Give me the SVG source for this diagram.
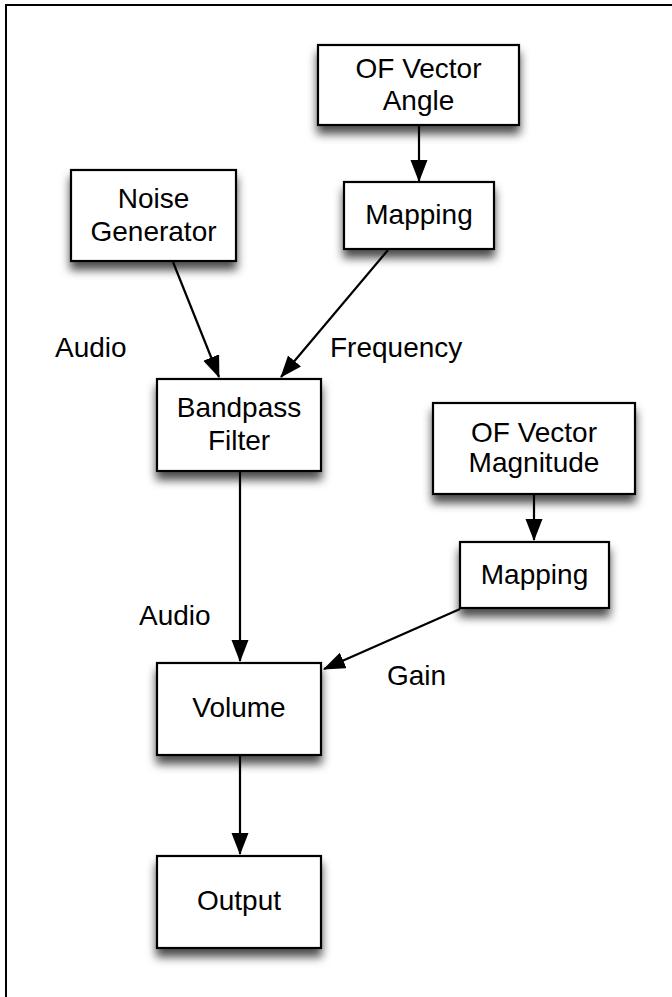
<svg xmlns="http://www.w3.org/2000/svg" width="672" height="997" viewBox="0 0 672 997">
<style>
.box{fill:#fff;stroke:#000;stroke-width:2.2;filter:url(#sh)}
.t{font-family:"Liberation Sans",Arial,sans-serif;font-size:28px;fill:#000;text-anchor:middle}
.l{font-family:"Liberation Sans",Arial,sans-serif;font-size:28px;fill:#000}
.c{stroke:#000;stroke-width:2.2;fill:none;marker-end:url(#ah)}
</style>
<defs>
<filter id="sh" x="-20%" y="-20%" width="140%" height="160%">
<feDropShadow dx="0" dy="8" stdDeviation="5" flood-color="#000" flood-opacity="0.7"/>
</filter>
<marker id="ah" markerWidth="22" markerHeight="18" refX="21" refY="8.5" orient="auto" markerUnits="userSpaceOnUse">
<path d="M0,0 L22,8.5 L0,17 Z" fill="#000"/>
</marker>
</defs>
<rect x="0" y="0" width="672" height="997" fill="#fff"/>
<rect x="6" y="5" width="720" height="1100" fill="none" stroke="#000" stroke-width="2"/>
<g id="connectors">
<line class="c" x1="419" y1="125" x2="419" y2="181"/>
<line class="c" x1="173" y1="262" x2="219" y2="377"/>
<line class="c" x1="388" y1="250" x2="281" y2="377"/>
<line class="c" x1="240" y1="471" x2="240" y2="661"/>
<line class="c" x1="534" y1="494" x2="534" y2="540"/>
<line class="c" x1="460" y1="609" x2="324" y2="669"/>
<line class="c" x1="240" y1="755" x2="240" y2="854"/>
</g>
<g id="n-ofangle"><rect class="box" x="318" y="45" width="201" height="80"/><text class="t" x="418.5" y="78">OF Vector</text><text class="t" x="418.5" y="110">Angle</text></g>
<g id="n-mapping1"><rect class="box" x="344" y="182" width="150" height="67"/><text class="t" x="419" y="224">Mapping</text></g>
<g id="n-noise"><rect class="box" x="71" y="170" width="165" height="91"/><text class="t" x="153.5" y="208">Noise</text><text class="t" x="153.5" y="241">Generator</text></g>
<g id="n-bandpass"><rect class="box" x="157" y="379" width="164" height="92"/><text class="t" x="239" y="417">Bandpass</text><text class="t" x="239" y="450">Filter</text></g>
<g id="n-ofmag"><rect class="box" x="433" y="403" width="202" height="91"/><text class="t" x="534" y="442">OF Vector</text><text class="t" x="534" y="472">Magnitude</text></g>
<g id="n-mapping2"><rect class="box" x="460" y="542" width="149" height="66"/><text class="t" x="534.5" y="584">Mapping</text></g>
<g id="n-volume"><rect class="box" x="157" y="663" width="164" height="92"/><text class="t" x="239" y="717">Volume</text></g>
<g id="n-output"><rect class="box" x="157" y="856" width="164" height="92"/><text class="t" x="239" y="910">Output</text></g>
<g id="labels">
<text class="l" x="55" y="357">Audio</text>
<text class="l" x="330" y="357">Frequency</text>
<text class="l" x="139" y="625">Audio</text>
<text class="l" x="387" y="685">Gain</text>
</g>
</svg>
